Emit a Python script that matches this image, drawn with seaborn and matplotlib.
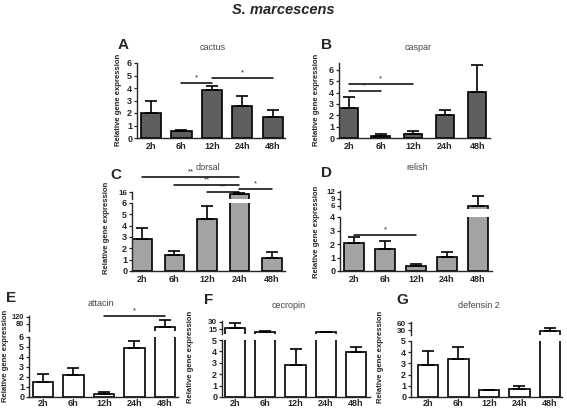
import matplotlib
matplotlib.use('Agg')
import matplotlib.pyplot as plt
import seaborn as sns
import pandas as pd
from matplotlib.transforms import blended_transform_factory

sns.set_style('ticks')
plt.rcParams['font.family'] = ['Liberation Sans', 'DejaVu Sans']

times = ['2h', '6h', '12h', '24h', '48h']

cactus_mean = [2.0, 0.53, 3.87, 2.59, 1.68]
cactus_sem = [0.93, 0.14, 0.26, 0.80, 0.59]
caspar_mean = [2.67, 0.15, 0.38, 2.0, 4.06]
caspar_sem = [0.95, 0.2, 0.2, 0.46, 2.4]
dorsal_mean = [2.79, 1.45, 4.6, 14.5, 1.16]
dorsal_sem = [1.04, 0.3, 1.16, 1.3, 0.53]
relish_mean = [2.05, 1.65, 0.35, 1.05, 5.8]
relish_sem = [0.5, 0.6, 0.2, 0.33, 4.4]
attacin_mean = [1.5, 2.17, 0.33, 4.93, 60.0]
attacin_sem = [0.77, 0.73, 0.17, 0.64, 40.0]
cecropin_mean = [18.0, 9.0, 2.85, 8.5, 3.97]
cecropin_sem = [9.0, 3.0, 1.33, 1.5, 0.38]
defensin_mean = [2.84, 3.35, 0.6, 0.75, 27.0]
defensin_sem = [1.29, 1.08, 0.0, 0.24, 13.0]

W, H = 567, 408
fig = plt.figure(figsize=(W / 100, H / 100), dpi=100)


def rect(l, r, t, b):
    return [l / W, 1 - b / H, (r - l) / W, (b - t) / H]


def style_ax(ax, ylim, yticks, xlim, bottom=True, fs=6.5, xpad=1.5):
    ax.set_xlim(*xlim)
    ax.set_ylim(*ylim)
    ax.set_yticks(yticks)
    ax.set_yticklabels([str(t) for t in yticks], fontsize=fs, fontweight='bold')
    for s in ['top', 'right']:
        ax.spines[s].set_visible(False)
    ax.spines['left'].set_linewidth(1.0)
    ax.spines['bottom'].set_linewidth(1.0)
    ax.tick_params(axis='y', length=2.5, width=0.9, pad=1)
    ax.set_xlabel('')
    ax.set_ylabel('')
    if bottom:
        ax.set_xticks(range(len(times)))
        ax.set_xticklabels(times, fontsize=6.5, fontweight='bold')
        ax.tick_params(axis='x', length=0, pad=xpad)
    else:
        ax.spines['bottom'].set_visible(False)
        ax.set_xticks([])


def draw_bars(ax, mean, sem, color, width, ymin=None):
    shown = [m if (ymin is None or m > ymin) else 0 for m in mean]
    df = pd.DataFrame({'time': times, 'value': shown})
    sns.barplot(data=df, x='time', y='value', color=color, edgecolor='black',
                linewidth=1.2, width=width, errorbar=None, saturation=1, ax=ax)
    idx = [k for k in range(len(times)) if ymin is None or mean[k] + sem[k] > ymin]
    ax.errorbar(idx, [mean[k] for k in idx],
                yerr=[[0] * len(idx), [sem[k] for k in idx]], fmt='none',
                ecolor='black', elinewidth=1.2, capsize=4.5, capthick=1.2, zorder=1)


panels = [
    dict(name='cactus', letter='A', mean=cactus_mean, sem=cactus_sem, color='#5f5f5f',
         low=(137, 285, 63, 138), ylim=(0, 6), yt=[0, 1, 2, 3, 4, 5, 6], xlim=(-0.46, 4.4),
         width=0.66, title=(213, 47), let=(123, 45), ylab=(118, 100), xpad=3,
         sig=[(1, 2, '*', 83), (2, 4, '*', 78)]),
    dict(name='caspar', letter='B', mean=caspar_mean, sem=caspar_sem, color='#5f5f5f',
         low=(339, 490, 63, 138), ylim=(0, 6.6), yt=[0, 1, 2, 3, 4, 5, 6], xlim=(-0.3, 4.4),
         width=0.58, title=(418, 47), let=(326, 45), ylab=(317, 100), xpad=3,
         sig=[(0, 1, '*', 91), (0, 2, '*', 84)]),
    dict(name='dorsal', letter='C', mean=dorsal_mean, sem=dorsal_sem, color='#a3a3a3',
         low=(132, 285, 203, 271), ylim=(0, 6), yt=[0, 1, 2, 3, 4, 5, 6], xlim=(-0.3, 4.4),
         width=0.6, top=(192, 199), tylim=(8, 16.3), tyt=[16], tfs=5.8,
         title=(208, 167), let=(116, 175), ylab=(106, 228), xpad=3,
         sig=[(0, 3, '**', 177), (1, 3, '**', 185), (2, 3, '**', 192), (3, 4, '*', 189)]),
    dict(name='relish', letter='D', mean=relish_mean, sem=relish_sem, color='#a3a3a3',
         low=(340, 492, 217, 271), ylim=(0, 4), yt=[0, 1, 2, 3, 4], xlim=(-0.45, 4.45),
         width=0.65, top=(191, 209), tylim=(4.5, 12.3), tyt=[6, 9, 12], tfs=5.8,
         title=(417, 168), let=(326, 173), ylab=(317, 232), xpad=3,
         sig=[(0, 2, '*', 235)]),
    dict(name='attacin', letter='E', mean=attacin_mean, sem=attacin_sem, color='white',
         low=(29, 178, 337, 397), ylim=(0, 6), yt=[0, 1, 2, 3, 4, 5, 6], xlim=(-0.46, 4.43),
         width=0.67, top=(316, 331), tylim=(40, 125), tyt=[80, 120], tfs=5.3,
         title=(101, 304), let=(11, 298), ylab=(6, 356), xpad=1.5,
         sig=[(2, 4, '*', 316)]),
    dict(name='cecropin', letter='F', mean=cecropin_mean, sem=cecropin_sem, color='white',
         low=(222, 370, 340, 397), ylim=(0, 5), yt=[0, 1, 2, 3, 4, 5], xlim=(-0.43, 4.46),
         width=0.67, top=(321, 334), tylim=(5, 32), tyt=[15, 30], tfs=5.8,
         title=(289, 305), let=(209, 300), ylab=(190, 357), xpad=1.5, sig=[]),
    dict(name='defensin 2', letter='G', mean=defensin_mean, sem=defensin_sem, color='white',
         low=(411, 562, 341, 397), ylim=(0, 5), yt=[0, 1, 2, 3, 4, 5], xlim=(-0.56, 4.4),
         width=0.67, top=(322, 335), tylim=(10, 65), tyt=[30, 60], tfs=5.8,
         title=(479, 305), let=(402, 300), ylab=(380, 357), xpad=1.5, sig=[]),
]

for p in panels:
    l, r, t, b = p['low']
    ax = fig.add_axes(rect(l, r, t, b))
    draw_bars(ax, p['mean'], p['sem'], p['color'], p['width'])
    style_ax(ax, p['ylim'], p['yt'], p['xlim'], bottom=True, xpad=p['xpad'])
    if 'top' in p:
        tt, tb = p['top']
        axt = fig.add_axes(rect(l, r, tt, tb))
        draw_bars(axt, p['mean'], p['sem'], p['color'], p['width'], ymin=p['tylim'][0])
        style_ax(axt, p['tylim'], p['tyt'], p['xlim'], bottom=False, fs=p['tfs'])
        axt.patch.set_alpha(0)
    tr = blended_transform_factory(ax.transData, fig.transFigure)
    for i, j, star, ypx in p['sig']:
        yf = 1 - ypx / H
        ax.plot([i, j], [yf, yf], transform=tr, color='black', lw=1.1, clip_on=False)
        ax.text((i + j) / 2, yf + 1.5 / H, star, transform=tr, ha='center', va='bottom',
                fontsize=5.5, clip_on=False)
    fig.text(p['title'][0] / W, 1 - p['title'][1] / H, p['name'], ha='center', va='center',
             fontsize=6.5, color='#444444')
    fig.text(p['let'][0] / W, 1 - p['let'][1] / H, p['letter'], ha='center', va='center',
             fontsize=11, fontweight='bold')
    fig.text(p['ylab'][0] / W, 1 - p['ylab'][1] / H, 'Relative gene expression', ha='center',
             va='center', rotation=90, fontsize=5.6, fontweight='bold')

fig.text(283 / W, 1 - 10 / H, 'S. marcescens', ha='center', va='center', fontsize=10.5,
         fontweight='bold', fontstyle='italic')

fig.savefig('out.png', dpi=100)
